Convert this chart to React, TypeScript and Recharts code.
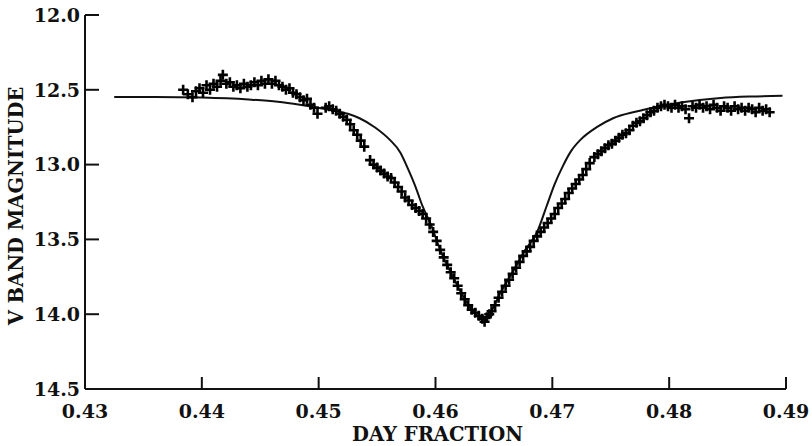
import { ComposedChart, Line, Scatter, XAxis, YAxis, Label } from "recharts";

// observed V-band points (day fraction, magnitude)
const obsPhase = [
  0.4384, 0.4388, 0.4392, 0.4395, 0.4398, 0.4401, 0.4404, 0.4407, 0.441, 0.4413,
  0.4416, 0.4418, 0.4421, 0.4424, 0.4427, 0.443, 0.4433, 0.4436, 0.4439, 0.4442,
  0.4445, 0.4448, 0.4451, 0.4454, 0.4457, 0.446, 0.4463, 0.4466, 0.4469, 0.4472,
  0.4475, 0.4478, 0.4481, 0.4484, 0.4487, 0.449, 0.4493, 0.4496, 0.4499, 0.4506,
  0.4509, 0.4512, 0.4515, 0.4518, 0.4521, 0.4524, 0.4527, 0.453, 0.4533, 0.4536,
  0.4539, 0.4544, 0.4547, 0.455, 0.4553, 0.4556, 0.4559, 0.4562, 0.4565, 0.4568,
  0.4571, 0.4574, 0.4577, 0.458, 0.4583, 0.4586, 0.4589, 0.4592, 0.4595, 0.4598,
  0.4601, 0.4604, 0.4607, 0.461, 0.4613, 0.4616, 0.4619, 0.4622, 0.4625, 0.4628,
  0.4631, 0.4634, 0.4637, 0.464, 0.4642, 0.4644, 0.4646, 0.4648, 0.4651, 0.4654,
  0.4657, 0.466, 0.4663, 0.4666, 0.4669, 0.4672, 0.4675, 0.4678, 0.4681, 0.4684,
  0.4687, 0.469, 0.4693, 0.4696, 0.4699, 0.4702, 0.4705, 0.4708, 0.4711, 0.4714,
  0.4717, 0.472, 0.4723, 0.4726, 0.4729, 0.4732, 0.4736, 0.4739, 0.4742, 0.4745,
  0.4748, 0.4751, 0.4754, 0.4757, 0.476, 0.4763, 0.4766, 0.4769, 0.4772, 0.4775,
  0.4778, 0.4781, 0.4784, 0.4787, 0.479, 0.4793, 0.4796, 0.4799, 0.4802, 0.4805,
  0.4808, 0.4811, 0.4814, 0.4817, 0.482, 0.4823, 0.4826, 0.4829, 0.4832, 0.4835,
  0.4838, 0.4841, 0.4844, 0.4847, 0.485, 0.4853, 0.4856, 0.4859, 0.4862, 0.4865,
  0.4868, 0.4871, 0.4874, 0.4877, 0.488, 0.4883, 0.4886,
];
const obsMag = [
  12.5, 12.53, 12.55, 12.51, 12.49, 12.52, 12.47, 12.5, 12.46, 12.48,
  12.44, 12.4, 12.46, 12.45, 12.48, 12.47, 12.49, 12.46, 12.48, 12.47,
  12.45, 12.47, 12.44, 12.46, 12.43, 12.46, 12.44, 12.47, 12.48, 12.5,
  12.49, 12.52, 12.53, 12.55, 12.57, 12.56, 12.6, 12.62, 12.66, 12.62,
  12.61, 12.63, 12.64, 12.66, 12.68, 12.7, 12.73, 12.77, 12.8, 12.84,
  12.88, 12.97, 13.0, 13.02, 13.04, 13.06, 13.08, 13.09, 13.12, 13.15,
  13.18, 13.22, 13.24, 13.27, 13.29, 13.31, 13.33, 13.36, 13.4, 13.45,
  13.51, 13.57, 13.62, 13.67, 13.72, 13.76, 13.81, 13.86, 13.9, 13.94,
  13.97, 13.99, 14.01, 14.03, 14.05, 14.02, 14.0, 13.98, 13.94, 13.89,
  13.85, 13.81, 13.77, 13.73, 13.69, 13.65, 13.61, 13.58, 13.55, 13.51,
  13.48, 13.45, 13.42, 13.39, 13.36, 13.33, 13.29, 13.26, 13.23, 13.19,
  13.16, 13.13, 13.1, 13.07, 13.03, 12.99, 12.95, 12.93, 12.91, 12.89,
  12.87, 12.86, 12.84, 12.82, 12.8, 12.79, 12.77, 12.74, 12.72, 12.71,
  12.69, 12.67, 12.65, 12.64, 12.62, 12.61, 12.6, 12.61, 12.62, 12.6,
  12.62, 12.61, 12.63, 12.69, 12.61, 12.62, 12.6, 12.62, 12.61, 12.63,
  12.6, 12.62, 12.64, 12.61, 12.62, 12.64, 12.61, 12.63, 12.62, 12.64,
  12.62, 12.63, 12.65, 12.62, 12.64, 12.63, 12.65,
];

// model light curve
const modelPhase = [
  0.4325, 0.436, 0.44, 0.444, 0.4465, 0.4484, 0.451, 0.4525, 0.4535, 0.4548,
  0.4561, 0.457, 0.4576, 0.4583, 0.4589, 0.4596, 0.4604, 0.4615, 0.4625, 0.4633,
  0.464, 0.4647, 0.4656, 0.4666, 0.4676, 0.4687, 0.4695, 0.4702, 0.4709, 0.4716,
  0.4724, 0.4738, 0.4752, 0.4772, 0.4786, 0.481, 0.4844, 0.487, 0.4897,
];
const modelMag = [
  12.548, 12.548, 12.552, 12.565, 12.58, 12.6, 12.635, 12.66, 12.69, 12.75,
  12.835, 12.92, 13.02, 13.15, 13.28, 13.4, 13.57, 13.75, 13.9, 13.99,
  14.03, 13.99, 13.85, 13.72, 13.58, 13.45, 13.28, 13.13, 13.01, 12.91,
  12.835, 12.75, 12.69, 12.645, 12.62, 12.585, 12.555, 12.545, 12.54,
];

const xTicks = [0.43, 0.44, 0.45, 0.46, 0.47, 0.48, 0.49];
const yTicks = [12.0, 12.5, 13.0, 13.5, 14.0, 14.5];

const obsData = obsPhase.map((x, i) => ({ x, y: obsMag[i] }));
const modelData = modelPhase.map((x, i) => ({ x, y: modelMag[i] }));

const INK = "#111";
const FONT = "'DejaVu Serif', serif";
const FS = 19;
const TM = 4; // tick margin

const BottomTick = ({ x, y, payload }: any) => {
  const ay = y - TM;
  return (
    <g>
      <line x1={x} x2={x} y1={ay} y2={ay - 12} stroke={INK} strokeWidth={2} />
      <text x={x} y={ay + 29} textAnchor="middle" fill={INK} fontFamily={FONT} fontWeight="bold" fontSize={FS}>
        {payload.value.toFixed(2)}
      </text>
    </g>
  );
};

const TopTick = ({ x, y }: any) => {
  const ay = y + TM;
  return <line x1={x} x2={x} y1={ay} y2={ay + 12} stroke={INK} strokeWidth={2} />;
};

const LeftTick = ({ x, y, payload }: any) => {
  const ax = x + TM;
  return (
    <g>
      <line x1={ax} x2={ax + 14} y1={y} y2={y} stroke={INK} strokeWidth={2} />
      <text x={ax - 5} y={y} dy="0.36em" textAnchor="end" fill={INK} fontFamily={FONT} fontWeight="bold" fontSize={FS}>
        {payload.value.toFixed(1)}
      </text>
    </g>
  );
};

const RightTick = ({ x, y }: any) => {
  const ax = x - TM;
  return <line x1={ax} x2={ax - 14} y1={y} y2={y} stroke={INK} strokeWidth={2} />;
};

const Plus = ({ cx, cy }: any) => (
  <path d={`M${cx - 5},${cy}h10M${cx},${cy - 5}v10`} stroke="#000" strokeWidth={2.6} fill="none" />
);

export default function App() {
  return (
    <div style={{ position: "absolute", left: 0, top: 0, width: 812, height: 446, background: "#fff" }}>
      <ComposedChart width={812} height={446} margin={{ top: 15, right: 26, left: 0, bottom: 0 }}>
        <XAxis
          xAxisId="b"
          dataKey="x"
          type="number"
          domain={[0.43, 0.49]}
          ticks={xTicks}
          height={57}
          tickSize={0}
          tickMargin={TM}
          tick={<BottomTick />}
          axisLine={{ stroke: INK, strokeWidth: 2 }}
          allowDataOverflow
        >
          <Label
            content={({ viewBox }: any) => (
              <text
                x={viewBox.x + viewBox.width / 2 + 2}
                y={viewBox.y + 52}
                textAnchor="middle"
                fill={INK}
                fontFamily={FONT}
                fontWeight="bold"
                fontSize={19.5}
              >
                DAY FRACTION
              </text>
            )}
          />
        </XAxis>
        <XAxis
          xAxisId="t"
          orientation="top"
          dataKey="x"
          type="number"
          domain={[0.43, 0.49]}
          ticks={xTicks}
          height={0}
          tickSize={0}
          tickMargin={TM}
          tick={<TopTick />}
          axisLine={{ stroke: INK, strokeWidth: 2 }}
          allowDataOverflow
        />
        <YAxis
          yAxisId="l"
          type="number"
          reversed
          domain={[12, 14.5]}
          ticks={yTicks}
          width={85}
          tickSize={0}
          tickMargin={TM}
          tick={<LeftTick />}
          axisLine={{ stroke: INK, strokeWidth: 2 }}
          allowDataOverflow
        >
          <Label
            content={({ viewBox }: any) => {
              const cx = viewBox.x + 16;
              const cy = viewBox.y + viewBox.height / 2 + 4;
              return (
                <text
                  x={cx}
                  y={cy}
                  transform={`rotate(-90 ${cx} ${cy})`}
                  textAnchor="middle"
                  dy="0.36em"
                  fill={INK}
                  fontFamily={FONT}
                  fontWeight="bold"
                  fontSize={19.5}
                >
                  V BAND MAGNITUDE
                </text>
              );
            }}
          />
        </YAxis>
        <YAxis
          yAxisId="r"
          orientation="right"
          type="number"
          reversed
          domain={[12, 14.5]}
          ticks={yTicks}
          width={0}
          tickSize={0}
          tickMargin={TM}
          tick={<RightTick />}
          axisLine={{ stroke: INK, strokeWidth: 2 }}
          allowDataOverflow
        />
        <Line
          xAxisId="b"
          yAxisId="l"
          data={modelData}
          dataKey="y"
          type="monotone"
          stroke={INK}
          strokeWidth={2}
          dot={false}
          isAnimationActive={false}
        />
        <Scatter
          xAxisId="b"
          yAxisId="l"
          data={obsData}
          dataKey="y"
          shape={<Plus />}
          isAnimationActive={false}
        />
      </ComposedChart>
    </div>
  );
}
